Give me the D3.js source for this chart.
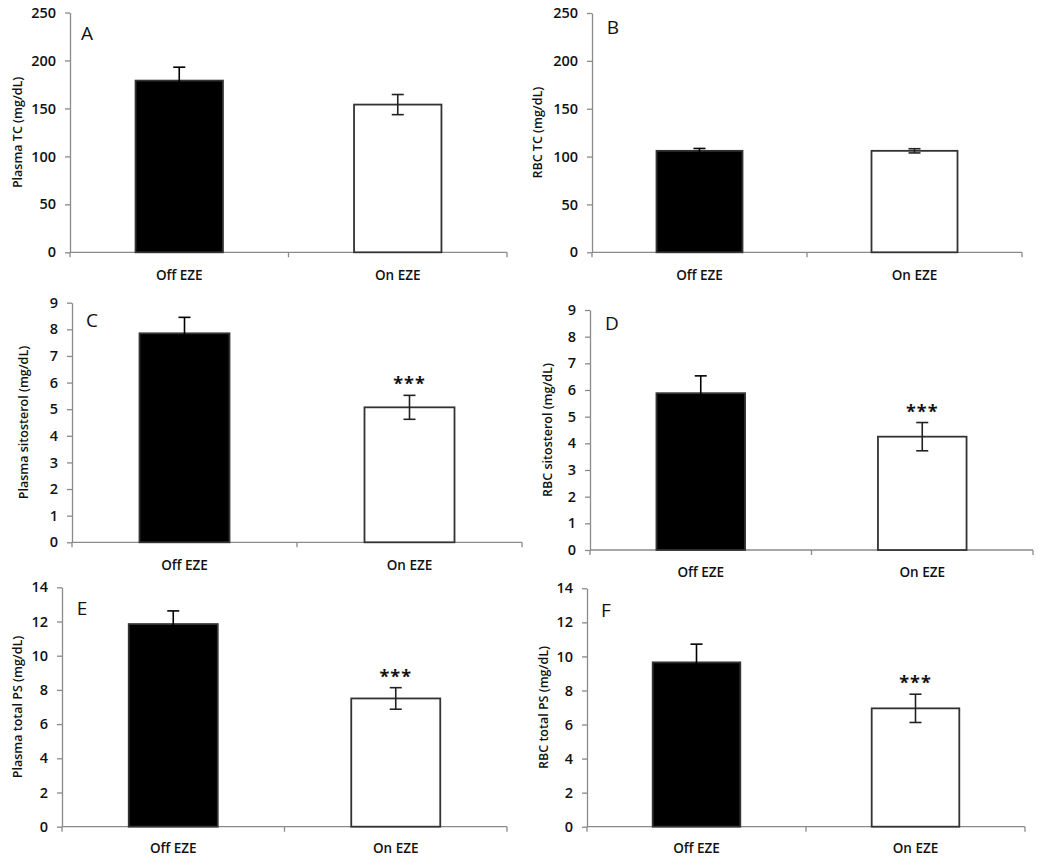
<!DOCTYPE html>
<html>
<head>
<meta charset="utf-8">
<script src="https://cdn.jsdelivr.net/npm/d3@7"></script>
<style>
  html, body { margin: 0; padding: 0; background: #fff; }
  svg { display: block; }
  text { font-family: "Open Sans", "DejaVu Sans", sans-serif; fill: #111; }
</style>
</head>
<body>
<svg id="chart" width="1050" height="867"></svg>
<script>
// ---------------- DATA ----------------
const categories = ["Off EZE", "On EZE"];
const panelLetters = ["A", "B", "C", "D", "E", "F"];
const yLabels = [
  "Plasma TC (mg/dL)",
  "RBC TC (mg/dL)",
  "Plasma sitosterol (mg/dL)",
  "RBC sitosterol (mg/dL)",
  "Plasma total PS  (mg/dL)",
  "RBC total PS  (mg/dL)"
];
const yMax = [250, 250, 9, 9, 14, 14];
const tickStep = [50, 50, 1, 1, 2, 2];
const means = [
  [179, 154],
  [106, 106],
  [7.85, 5.07],
  [5.88, 4.25],
  [11.85, 7.5],
  [9.65, 6.95]
];
const errors = [
  [14, 10.5],
  [2.5, 2.2],
  [0.6, 0.45],
  [0.65, 0.53],
  [0.77, 0.63],
  [1.07, 0.83]
];
const significance = [
  ["", ""],
  ["", ""],
  ["", "***"],
  ["", "***"],
  ["", "***"],
  ["", "***"]
];

// ---------------- LAYOUT ----------------
const layout = [
  { x0: 70,  x1: 507,  yTop: 12.5,  yZero: 252.3, ylx: 17,  lx: 87,  ly: 33,  xly: 275 },
  { x0: 592, x1: 1022, yTop: 13,    yZero: 252.3, ylx: 537, lx: 613, ly: 27,  xly: 275 },
  { x0: 72,  x1: 522,  yTop: 302.7, yZero: 542.3, ylx: 23,  lx: 92,  ly: 320, xly: 565 },
  { x0: 590, x1: 1033, yTop: 310,   yZero: 550,   ylx: 547, lx: 612, ly: 323, xly: 572 },
  { x0: 62,  x1: 507,  yTop: 587.3, yZero: 826.7, ylx: 17,  lx: 82,  ly: 608, xly: 848 },
  { x0: 587, x1: 1025, yTop: 588.3, yZero: 826.7, ylx: 543, lx: 606, ly: 610, xly: 848 }
];

const svg = d3.select("#chart");

panelLetters.forEach((letter, i) => {
  const L = layout[i];
  const g = svg.append("g");

  const y = d3.scaleLinear().domain([0, yMax[i]]).range([L.yZero, L.yTop]);
  const x = d3.scaleBand().domain(categories).range([L.x0, L.x1]).paddingInner(0.6).paddingOuter(0.3);

  // y axis
  const ticks = d3.range(0, yMax[i] + tickStep[i] / 2, tickStep[i]);
  const yAxis = d3.axisLeft(y).tickValues(ticks).tickSize(5).tickSizeOuter(0).tickPadding(9)
    .tickFormat(d3.format("d"));
  const ya = g.append("g").attr("transform", `translate(${L.x0},0)`).call(yAxis);
  ya.select(".domain").attr("stroke", "#8a8a8a").attr("stroke-width", 1.3);
  ya.selectAll(".tick line").attr("stroke", "#8a8a8a").attr("stroke-width", 1.3);
  ya.selectAll(".tick text").style("font-size", "14.5px").style("font-weight", "600")
    .attr("font-family", null).attr("fill", "#111");

  // x axis line with boundary ticks
  const xa = g.append("g");
  xa.append("line").attr("x1", L.x0).attr("x2", L.x1).attr("y1", L.yZero).attr("y2", L.yZero)
    .attr("stroke", "#8a8a8a").attr("stroke-width", 1.3);
  const mid = (x(categories[0]) + x.bandwidth() + x(categories[1])) / 2;
  [L.x0, mid, L.x1].forEach(px => {
    xa.append("line").attr("x1", px).attr("x2", px).attr("y1", L.yZero).attr("y2", L.yZero + 5)
      .attr("stroke", "#8a8a8a").attr("stroke-width", 1.3);
  });
  categories.forEach(c => {
    xa.append("text").attr("x", x(c) + x.bandwidth() / 2).attr("y", L.xly + 5)
      .attr("text-anchor", "middle").style("font-size", "13.5px").style("font-weight", "600")
      .text(c);
  });

  // bars
  categories.forEach((c, j) => {
    const v = means[i][j];
    g.append("rect")
      .attr("x", x(c)).attr("y", y(v))
      .attr("width", x.bandwidth()).attr("height", y(0) - y(v))
      .attr("fill", j === 0 ? "#000" : "#fff")
      .attr("stroke", "#333").attr("stroke-width", 1.8);
  });

  // error bars
  categories.forEach((c, j) => {
    const cx = x(c) + x.bandwidth() / 2;
    const v = means[i][j], e = errors[i][j];
    const col = j === 0 ? "#000" : "#222";
    const eg = g.append("g").attr("stroke", col).attr("stroke-width", 1.6);
    eg.append("line").attr("x1", cx).attr("x2", cx).attr("y1", y(v + e)).attr("y2", y(v - e));
    eg.append("line").attr("x1", cx - 6).attr("x2", cx + 6).attr("y1", y(v + e)).attr("y2", y(v + e));
    eg.append("line").attr("x1", cx - 6).attr("x2", cx + 6).attr("y1", y(v - e)).attr("y2", y(v - e));
    if (significance[i][j]) {
      g.append("text").attr("x", cx).attr("y", y(v + e) - 5)
        .attr("text-anchor", "middle").style("font-size", "18px").style("font-weight", "700")
        .style("letter-spacing", "1px")
        .text(significance[i][j]);
    }
  });

  // y label
  const yMid = (L.yTop + L.yZero) / 2;
  g.append("text")
    .attr("transform", `translate(${L.ylx + 5},${yMid}) rotate(-90)`)
    .attr("text-anchor", "middle").style("font-size", "12.5px").style("font-weight", "600")
    .text(yLabels[i]);

  // panel letter
  g.append("text").attr("x", L.lx).attr("y", L.ly + 7).attr("text-anchor", "middle")
    .style("font-size", "19px").text(letter);
});
</script>
</body>
</html>
